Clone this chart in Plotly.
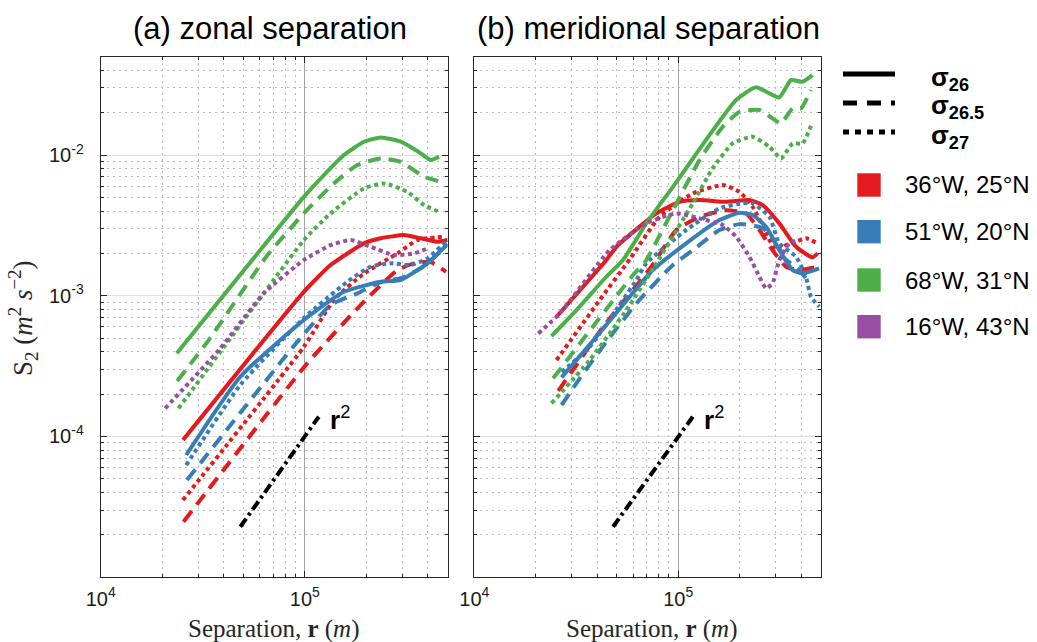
import math
import plotly.graph_objects as go

# ---------------- data ----------------
# (a) zonal separation : r in m, S2 in m^2 s^-2
zon_36W_26_r = [2.53e4, 9.89e4, 1.337e5, 1.95e5, 2.354e5, 3.063e5, 3.70e5, 4.47e5, 5.0e5]
zon_36W_26_s = [9.43e-5, 1.067e-3, 1.653e-3, 2.357e-3, 2.56e-3, 2.70e-3, 2.56e-3, 2.42e-3, 2.49e-3]
zon_36W_265_r = [2.545e4, 1.028e5, 1.877e5, 2.843e5, 3.43e5, 4.14e5, 4.91e5]
zon_36W_265_s = [2.476e-5, 3.31e-4, 8.59e-4, 1.523e-3, 1.70e-3, 1.736e-3, 1.481e-3]
zon_36W_27_r = [2.527e4, 9.89e4, 1.388e5, 1.95e5, 2.843e5, 3.566e5, 4.82e5]
zon_36W_27_s = [3.53e-5, 4.34e-4, 9.32e-4, 1.442e-3, 2.0e-3, 2.49e-3, 2.63e-3]

zon_51W_26_r = [2.624e4, 4.83e4, 9.89e4, 1.554e5, 2.354e5, 2.95e5, 3.566e5, 3.99e5, 5.0e5]
zon_51W_26_s = [7.38e-5, 2.656e-4, 6.72e-4, 1.067e-3, 1.257e-3, 1.293e-3, 1.523e-3, 1.70e-3, 2.33e-3]
zon_51W_265_r = [2.645e4, 9.34e4, 1.337e5, 1.809e5, 2.354e5, 2.95e5, 3.70e5, 4.82e5]
zon_51W_265_s = [4.90e-5, 4.84e-4, 8.59e-4, 1.04e-3, 1.251e-3, 1.336e-3, 1.566e-3, 2.17e-3]
zon_51W_27_r = [2.624e4, 4.83e4, 9.89e4, 1.615e5, 2.10e5, 2.636e5, 3.305e5, 3.99e5, 5.0e5]
zon_51W_27_s = [6.26e-5, 2.32e-4, 6.94e-4, 1.257e-3, 1.607e-3, 1.70e-3, 1.653e-3, 1.844e-3, 2.49e-3]

zon_68W_26_r = [2.36e4, 9.89e4, 1.24e5, 1.554e5, 1.95e5, 2.354e5, 2.95e5, 3.70e5, 4.14e5, 4.55e5]
zon_68W_26_s = [3.9e-4, 5.05e-3, 7.21e-3, 1.0e-2, 1.244e-2, 1.336e-2, 1.244e-2, 1.028e-2, 9.21e-3, 9.72e-3]
zon_68W_265_r = [2.37e4, 3.38e4, 6.54e4, 9.89e4, 1.388e5, 1.809e5, 2.354e5, 2.95e5, 3.84e5, 4.64e5]
zon_68W_265_s = [2.476e-4, 4.84e-4, 1.93e-3, 3.85e-3, 6.29e-3, 8.49e-3, 9.47e-3, 8.96e-3, 7.01e-3, 6.46e-3]
zon_68W_27_r = [2.405e4, 6.29e4, 9.89e4, 1.337e5, 1.95e5, 2.443e5, 3.18e5, 3.84e5, 4.55e5]
zon_68W_27_s = [1.584e-4, 1.04e-3, 2.49e-3, 3.85e-3, 5.80e-3, 6.29e-3, 5.48e-3, 4.41e-3, 3.95e-3]

zon_16W_27_r = [2.07e4, 3.855e4, 6.29e4, 9.89e4, 1.337e5, 1.677e5, 2.10e5, 2.735e5, 3.43e5, 3.99e5]
zon_16W_27_s = [1.584e-4, 4.23e-4, 1.04e-3, 1.794e-3, 2.29e-3, 2.49e-3, 2.23e-3, 1.947e-3, 2.0e-3, 2.17e-3]

zon_r2_r = [4.83e4, 1.171e5]
zon_r2_s = [2.28e-5, 1.38e-4]

# (b) meridional separation
mer_36W_26_r = [2.53e4, 4.44e4, 4.97e4, 7.81e4, 1.015e5, 1.271e5, 1.717e5, 2.233e5, 2.594e5, 3.13e5, 3.78e5, 4.55e5, 4.82e5]
mer_36W_26_s = [7.09e-4, 1.794e-3, 2.23e-3, 3.85e-3, 4.65e-3, 4.79e-3, 4.65e-3, 4.79e-3, 4.41e-3, 3.27e-3, 2.23e-3, 1.875e-3, 2.0e-3]
mer_36W_265_r = [2.58e4, 3.17e4, 4.28e4, 7.38e4, 9.78e4, 1.271e5, 1.717e5, 2.15e5, 2.50e5, 2.90e5, 3.38e5, 3.92e5, 4.82e5]
mer_36W_265_s = [2.11e-4, 3.22e-4, 6.02e-4, 1.607e-3, 2.93e-3, 3.64e-3, 4.06e-3, 3.85e-3, 2.93e-3, 2.11e-3, 1.607e-3, 1.523e-3, 1.607e-3]
mer_36W_27_r = [2.53e4, 4.12e4, 5.84e4, 8.10e4, 1.179e5, 1.653e5, 1.995e5, 2.317e5, 2.695e5, 3.02e5, 3.38e5, 3.78e5, 4.23e5, 4.82e5]
mer_36W_27_s = [3.49e-4, 9.32e-4, 1.854e-3, 3.64e-3, 5.34e-3, 6.12e-3, 5.48e-3, 4.29e-3, 2.78e-3, 2.11e-3, 2.29e-3, 2.42e-3, 2.56e-3, 2.357e-3]

mer_51W_26_r = [2.68e4, 3.97e4, 5.78e4, 7.51e4, 1.094e5, 1.593e5, 1.995e5, 2.317e5, 2.695e5, 3.13e5, 3.64e5, 4.07e5, 4.91e5]
mer_51W_26_s = [2.63e-4, 5.11e-4, 9.84e-4, 1.523e-3, 2.357e-3, 3.45e-3, 3.89e-3, 3.75e-3, 3.09e-3, 2.11e-3, 1.523e-3, 1.442e-3, 1.566e-3]
mer_51W_265_r = [2.68e4, 3.29e4, 4.44e4, 6.34e4, 9.41e4, 1.179e5, 1.593e5, 1.995e5, 2.50e5, 2.80e5, 3.25e5, 3.92e5, 4.39e5]
mer_51W_265_s = [1.671e-4, 2.59e-4, 4.71e-4, 9.07e-4, 1.653e-3, 2.11e-3, 2.93e-3, 3.23e-3, 3.09e-3, 2.78e-3, 1.893e-3, 1.523e-3, 1.231e-3]
mer_51W_27_r = [2.68e4, 3.68e4, 6.23e4, 6.97e4, 1.094e5, 1.593e5, 2.07e5, 2.317e5, 2.80e5, 3.13e5, 3.78e5, 4.23e5, 4.47e5, 4.91e5]
mer_51W_27_s = [2.87e-4, 4.34e-4, 1.293e-3, 1.70e-3, 2.93e-3, 4.18e-3, 4.54e-3, 4.54e-3, 3.64e-3, 2.357e-3, 1.893e-3, 1.365e-3, 9.84e-4, 8.35e-4]

mer_68W_26_r = [2.39e4, 3.17e4, 4.44e4, 5.36e4, 6.97e4, 9.95e4, 1.422e5, 1.922e5, 2.408e5, 3.13e5, 3.57e5, 4.07e5, 4.55e5]
mer_68W_26_s = [5.17e-4, 7.91e-4, 1.365e-3, 1.794e-3, 3.27e-3, 6.64e-3, 1.387e-2, 2.46e-2, 3.03e-2, 2.57e-2, 3.41e-2, 3.32e-2, 3.70e-2]
mer_68W_265_r = [2.435e4, 6.0e4, 6.92e4, 9.41e4, 1.271e5, 1.653e5, 1.995e5, 2.50e5, 2.90e5, 3.19e5, 3.64e5, 4.0e5, 4.47e5]
mer_68W_265_s = [2.59e-4, 1.403e-3, 1.765e-3, 4.06e-3, 9.21e-3, 1.589e-2, 2.03e-2, 2.09e-2, 1.823e-2, 1.68e-2, 2.15e-2, 2.15e-2, 2.90e-2]
mer_68W_27_r = [2.39e4, 3.68e4, 5.57e4, 7.81e4, 1.179e5, 1.477e5, 1.85e5, 2.317e5, 2.80e5, 3.19e5, 3.64e5, 4.07e5, 4.52e5]
mer_68W_27_s = [1.718e-4, 3.49e-4, 7.91e-4, 1.70e-3, 4.54e-3, 8.08e-3, 1.211e-2, 1.349e-2, 1.146e-2, 9.47e-3, 1.211e-2, 1.211e-2, 1.68e-2]

mer_16W_27_r = [2.06e4, 2.63e4, 4.61e4, 6.97e4, 9.78e4, 1.271e5, 1.653e5, 1.922e5, 2.233e5, 2.50e5, 2.695e5, 2.90e5, 3.13e5, 3.50e5, 3.85e5]
mer_16W_27_s = [5.40e-4, 7.50e-4, 2.11e-3, 3.27e-3, 3.85e-3, 3.55e-3, 3.18e-3, 2.63e-3, 1.893e-3, 1.365e-3, 1.129e-3, 1.225e-3, 1.794e-3, 2.357e-3, 2.49e-3]

mer_r2_r = [4.79e4, 1.179e5]
mer_r2_s = [2.28e-5, 1.38e-4]

panel_titles = ["(a) zonal separation", "(b) meridional separation"]
density_labels = ["σ<sub>26</sub>", "σ<sub>26.5</sub>", "σ<sub>27</sub>"]
location_labels = ["36°W, 25°N", "51°W, 20°N", "68°W, 31°N", "16°W, 43°N"]
x_tick_labels = ["10<sup>4</sup>", "10<sup>5</sup>"]
y_tick_labels = ["10<sup>-4</sup>", "10<sup>-3</sup>", "10<sup>-2</sup>"]

# ---------------- styling ----------------
RED, BLUE, GREEN, PURPLE = "#E41A1C", "#377EB8", "#4DAF4A", "#984EA3"
LOC_COLORS = [RED, BLUE, GREEN, PURPLE]
DASH = {"26": "solid", "26.5": "13px,8px", "27": "4px,3.5px"}
W, H = 1037, 642
SANS = "Liberation Sans, Arial, Helvetica, sans-serif"
SERIF = "Liberation Serif, Times New Roman, serif"


def fx(p):
    return p / W


def fy(p):
    return 1 - p / H


fig = go.Figure()


def add_curve(r, s, color, key, panel):
    fig.add_trace(go.Scatter(
        x=r, y=s, mode="lines",
        line=dict(color=color, width=4, dash=DASH[key], shape="spline", smoothing=0.5),
        xaxis="x" if panel == 1 else "x2", yaxis="y" if panel == 1 else "y2",
        showlegend=False, hoverinfo="skip"))


zonal = [
    (zon_36W_26_r, zon_36W_26_s, RED, "26"), (zon_36W_265_r, zon_36W_265_s, RED, "26.5"),
    (zon_36W_27_r, zon_36W_27_s, RED, "27"),
    (zon_51W_26_r, zon_51W_26_s, BLUE, "26"), (zon_51W_265_r, zon_51W_265_s, BLUE, "26.5"),
    (zon_51W_27_r, zon_51W_27_s, BLUE, "27"),
    (zon_68W_26_r, zon_68W_26_s, GREEN, "26"), (zon_68W_265_r, zon_68W_265_s, GREEN, "26.5"),
    (zon_68W_27_r, zon_68W_27_s, GREEN, "27"),
    (zon_16W_27_r, zon_16W_27_s, PURPLE, "27"),
]
merid = [
    (mer_36W_26_r, mer_36W_26_s, RED, "26"), (mer_36W_265_r, mer_36W_265_s, RED, "26.5"),
    (mer_36W_27_r, mer_36W_27_s, RED, "27"),
    (mer_51W_26_r, mer_51W_26_s, BLUE, "26"), (mer_51W_265_r, mer_51W_265_s, BLUE, "26.5"),
    (mer_51W_27_r, mer_51W_27_s, BLUE, "27"),
    (mer_68W_26_r, mer_68W_26_s, GREEN, "26"), (mer_68W_265_r, mer_68W_265_s, GREEN, "26.5"),
    (mer_68W_27_r, mer_68W_27_s, GREEN, "27"),
    (mer_16W_27_r, mer_16W_27_s, PURPLE, "27"),
]
for r, s, c, k in zonal:
    add_curve(r, s, c, k, 1)
for r, s, c, k in merid:
    add_curve(r, s, c, k, 2)

for r, s, xa, ya in [(zon_r2_r, zon_r2_s, "x", "y"), (mer_r2_r, mer_r2_s, "x2", "y2")]:
    fig.add_trace(go.Scatter(x=r, y=s, mode="lines",
                             line=dict(color="black", width=4, dash="10px,4px,3px,4px"),
                             xaxis=xa, yaxis=ya, showlegend=False, hoverinfo="skip"))

# ---------------- axes ----------------
x_minor = [k * 10 ** e for e in (4, 5) for k in range(2, 10)]
y_minor = [k * 10 ** e for e in (-5, -4, -3, -2) for k in range(2, 10)]

AX_COL = "#262626"
minor_common = dict(tickmode="array", ticks="inside", ticklen=3, tickcolor=AX_COL,
                    showgrid=True, gridcolor="#bcbcbc", griddash="2px,4px", gridwidth=1)


def xaxis(domain, anchor):
    return dict(type="log", range=[4, 5.70], domain=domain, anchor=anchor, automargin=False,
                tickmode="array", tickvals=[1e4, 1e5], ticktext=x_tick_labels,
                ticks="inside", ticklen=6, tickcolor=AX_COL,
                showline=True, linecolor=AX_COL, linewidth=1, mirror="allticks",
                showgrid=True, gridcolor="#a4a4a4", gridwidth=1, zeroline=False,
                tickfont=dict(family=SANS, size=20, color="#1a1a1a"),
                ticklabelstandoff=4,
                minor=dict(tickvals=x_minor, **minor_common))


def yaxis(domain, anchor, labels):
    return dict(type="log", range=[-4.997, -1.305], domain=domain, anchor=anchor, automargin=False,
                tickmode="array", tickvals=[1e-4, 1e-3, 1e-2], ticktext=y_tick_labels,
                showticklabels=labels,
                ticks="inside", ticklen=6, tickcolor=AX_COL,
                showline=True, linecolor=AX_COL, linewidth=1, mirror="allticks",
                showgrid=True, gridcolor="#dedede", gridwidth=1.2, zeroline=False,
                tickfont=dict(family=SANS, size=20, color="#1a1a1a"),
                ticklabelstandoff=12,
                minor=dict(tickvals=y_minor, **minor_common))


yd = [fy(576.7), fy(57.3)]
fig.update_layout(
    width=W, height=H, autosize=False,
    margin=dict(l=0, r=0, t=0, b=0, pad=0),
    paper_bgcolor="white", plot_bgcolor="white",
    xaxis=xaxis([fx(100.7), fx(447.7)], "y"),
    yaxis=yaxis(yd, "x", True),
    xaxis2=xaxis([fx(474.3), fx(821.0)], "y2"),
    yaxis2=yaxis(yd, "x2", False),
)

ann = []
# panel titles
for title, cx in zip(panel_titles, [270, 648]):
    ann.append(dict(text=title, x=fx(cx), y=fy(28), xref="paper", yref="paper",
                    xanchor="center", yanchor="middle", showarrow=False,
                    font=dict(family=SANS, size=31, color="black")))
# axis titles
for cx in [274, 652]:
    ann.append(dict(text="Separation, <b>r</b> (<i>m</i>)", x=fx(cx), y=fy(629),
                    xref="paper", yref="paper", xanchor="center", yanchor="middle",
                    showarrow=False, font=dict(family=SERIF, size=25, color="#262626")))
ann.append(dict(text="S<sub>2</sub> (<i>m</i><sup>2</sup> <i>s</i><sup>−2</sup>)",
                x=fx(23), y=fy(318), xref="paper", yref="paper", textangle=-90,
                xanchor="center", yanchor="middle", showarrow=False,
                font=dict(family=SERIF, size=27, color="#262626")))
# r^2 labels placed at the end of the reference lines
for r, s, xr, yr in [(zon_r2_r, zon_r2_s, "x", "y"), (mer_r2_r, mer_r2_s, "x2", "y2")]:
    ann.append(dict(text="<b>r</b><sup>2</sup>", x=math.log10(r[-1]), y=math.log10(s[-1]),
                    xref=xr, yref=yr, xanchor="left", yanchor="middle", xshift=9, yshift=-2,
                    showarrow=False, font=dict(family=SANS, size=26, color="black")))

shapes = []
# density legend
for lab, dash, yc in zip(density_labels, ["solid", "14px,10px", "6px,6px"], [74, 103, 132]):
    shapes.append(dict(type="line", xref="paper", yref="paper", x0=fx(843), x1=fx(895),
                       y0=fy(yc), y1=fy(yc), line=dict(color="black", width=5, dash=dash)))
    ann.append(dict(text="<b>" + lab + "</b>", x=fx(929), y=fy(yc + 4), xref="paper", yref="paper",
                    xanchor="left", yanchor="middle", showarrow=False,
                    font=dict(family=SANS, size=26, color="black")))
# location legend
for lab, col, yc in zip(location_labels, LOC_COLORS, [185, 231.7, 280, 326.7]):
    shapes.append(dict(type="rect", xref="paper", yref="paper", x0=fx(857.3), x1=fx(880.7),
                       y0=fy(yc - 11.7), y1=fy(yc + 11.7), fillcolor=col, line=dict(width=0)))
    ann.append(dict(text=lab, x=fx(903), y=fy(yc), xref="paper", yref="paper",
                    xanchor="left", yanchor="middle", showarrow=False,
                    font=dict(family=SANS, size=24, color="black")))

fig.update_layout(annotations=ann, shapes=shapes)

fig.write_html("out.html", include_plotlyjs=True, config={"displayModeBar": False},
               post_script="document.body.style.margin='0';document.body.style.overflow='hidden';")
